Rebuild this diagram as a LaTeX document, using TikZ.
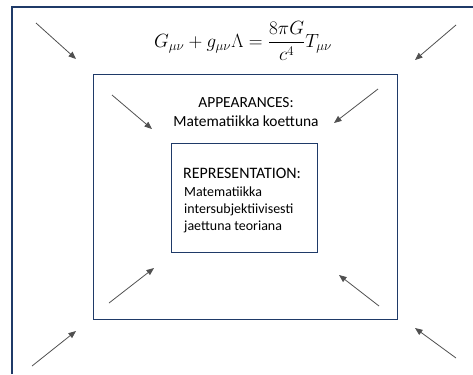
\documentclass[tikz,border=0pt]{standalone}
\usepackage{graphicx}
\usepackage{fontspec}
\newfontfamily\calib{Carlito}
\usetikzlibrary{arrows.meta}
\definecolor{boxblue}{HTML}{1F3A68}
\definecolor{arrgray}{HTML}{505050}
\tikzset{
  frame/.style={draw=boxblue, line width=1.25bp, fill=none},
  pointer/.style={draw=arrgray, line width=0.8bp, -{Triangle[length=7.5bp,width=6bp]}},
  lbl/.style={inner sep=0pt, text=black},
}
\begin{document}
\begin{tikzpicture}[x=1bp,y=-1bp]
\useasboundingbox (0,0) rectangle (473,374);
% outer frame (only top and left edges lie inside the picture)
\draw[frame, line cap=butt] (12,374) -- (12,7) -- (473,7);
% boxes
\node[frame, anchor=north west, minimum width=304bp, minimum height=245bp, inner sep=0pt] (middle) at (93,74) {};
\node[frame, anchor=north west, minimum width=146bp, minimum height=109bp, inner sep=0pt] (inner) at (171,143) {};
% equation
\node[lbl] (eq) at (243,41) {\scalebox{1.11}{\fontsize{17.28}{21}\selectfont $\displaystyle G_{\mu\nu}+g_{\mu\nu}\Lambda=\frac{8\pi G}{c^4}T_{\mu\nu}$}};
% texts
\node[lbl, anchor=base] (app1) at (246,107) {\calib\fontsize{15.5}{18}\selectfont APPEARANCES:};
\node[lbl, anchor=base] (app2) at (246,126) {\calib\fontsize{15.5}{18}\selectfont Matematiikka koettuna};
\node[lbl, anchor=base west] (rep0) at (183,178) {\calib\fontsize{16}{18}\selectfont REPRESENTATION:};
\node[lbl, anchor=base west] (rep1) at (184,196) {\calib\fontsize{14}{17}\selectfont Matematiikka};
\node[lbl, anchor=base west] (rep2) at (184,213) {\calib\fontsize{14}{17}\selectfont intersubjektiivisesti};
\node[lbl, anchor=base west] (rep3) at (184,230) {\calib\fontsize{14}{17}\selectfont jaettuna teoriana};
% arrow coordinates
\coordinate (o1s) at (36,23);   \coordinate (o1e) at (76,59);
\coordinate (o2s) at (456,25);  \coordinate (o2e) at (415,60);
\coordinate (o3s) at (32,366);  \coordinate (o3e) at (76,331);
\coordinate (o4s) at (456,358); \coordinate (o4e) at (415,328);
\coordinate (m1s) at (112,95);  \coordinate (m1e) at (152,129);
\coordinate (m2s) at (378,89);  \coordinate (m2e) at (334,123);
\coordinate (m3s) at (109,303); \coordinate (m3e) at (154,268);
\coordinate (m4s) at (379,306); \coordinate (m4e) at (339,275);
\foreach \a in {o1,o2,o3,o4,m1,m2,m3,m4} {
  \draw[pointer] (\a s) -- (\a e);
}
\end{tikzpicture}
\end{document}
